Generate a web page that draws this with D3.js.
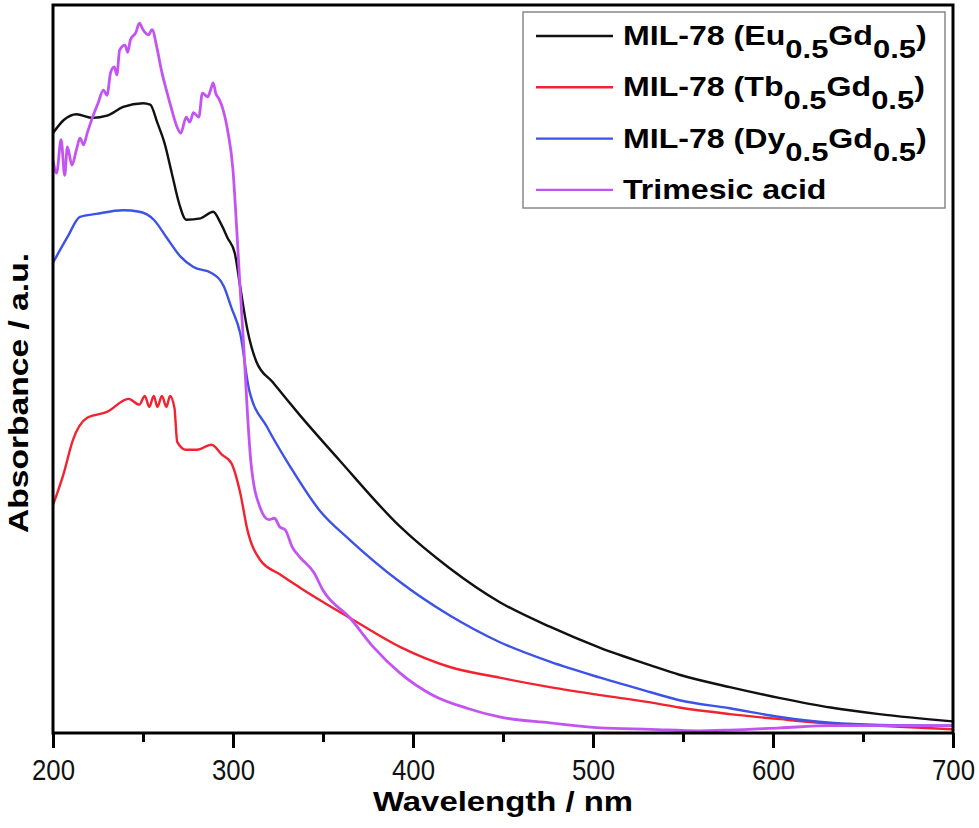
<!DOCTYPE html>
<html>
<head>
<meta charset="utf-8">
<title>MIL-78 absorbance</title>
<script src="https://cdnjs.cloudflare.com/ajax/libs/d3/7.8.5/d3.min.js"></script>
<style>
  html, body { margin: 0; padding: 0; background: #fff; }
  svg { display: block; }
  text { font-family: "Liberation Sans", Arial, Helvetica, sans-serif; }
</style>
</head>
<body>
<div id="chart"></div>
<script>
// wavelength (nm) / absorbance (a.u.)
const euWave = [200, 206, 213, 222, 230, 239, 250, 254, 258, 262, 266, 270, 274, 282, 289, 293, 297, 301, 304, 308, 313, 322, 337, 359, 393, 420, 448, 476, 504, 532, 548, 576, 604, 632, 659, 700];
const euAbs = [0.824, 0.842, 0.850, 0.845, 0.848, 0.860, 0.865, 0.863, 0.838, 0.810, 0.769, 0.728, 0.705, 0.707, 0.716, 0.701, 0.680, 0.659, 0.613, 0.554, 0.510, 0.482, 0.437, 0.375, 0.283, 0.227, 0.180, 0.146, 0.117, 0.093, 0.080, 0.063, 0.048, 0.035, 0.026, 0.016];

const tbWave = [200, 206, 211, 219, 230, 242, 248, 251, 253.5, 256, 258, 260.5, 263, 265, 267.5, 269, 274, 280, 288, 294, 299, 304, 308, 315, 326, 337, 350, 365, 393, 420, 448, 476, 504, 532, 548, 576, 604, 632, 659, 700];
const tbAbs = [0.313, 0.357, 0.402, 0.433, 0.441, 0.459, 0.451, 0.463, 0.448, 0.463, 0.448, 0.463, 0.448, 0.463, 0.446, 0.400, 0.389, 0.389, 0.396, 0.382, 0.371, 0.330, 0.279, 0.238, 0.218, 0.200, 0.180, 0.158, 0.118, 0.091, 0.076, 0.063, 0.052, 0.042, 0.035, 0.026, 0.019, 0.013, 0.010, 0.005];

const dyWave = [200, 208, 215, 224, 239, 248, 256, 263, 271, 278, 288, 295, 299, 304, 309, 319, 332, 348, 365, 393, 420, 448, 476, 504, 532, 548, 576, 604, 632, 659, 700];
const dyAbs = [0.646, 0.681, 0.709, 0.713, 0.718, 0.716, 0.705, 0.681, 0.654, 0.640, 0.632, 0.613, 0.585, 0.549, 0.471, 0.420, 0.365, 0.306, 0.265, 0.207, 0.162, 0.125, 0.098, 0.076, 0.056, 0.045, 0.034, 0.022, 0.014, 0.011, 0.010];

const taWave = [200, 202, 204.5, 206.5, 208, 210.5, 213, 215, 217, 219, 222, 225, 228, 230, 232, 234, 235.5, 237, 240, 241.5, 243, 246, 248, 250, 253, 255, 258, 260, 263, 266, 269, 271, 274, 276, 278, 281, 283, 286, 287.5, 289, 290.5, 292, 294, 297, 300, 302, 304, 306, 308, 310, 315, 320, 323, 326, 329, 333, 337, 345, 350, 365, 378, 393, 411, 430, 448, 476, 504, 532, 559, 576, 604, 632, 659, 700];
const taAbs = [0.787, 0.769, 0.815, 0.766, 0.805, 0.780, 0.801, 0.817, 0.808, 0.824, 0.846, 0.865, 0.883, 0.876, 0.907, 0.915, 0.904, 0.938, 0.945, 0.935, 0.952, 0.962, 0.975, 0.966, 0.959, 0.966, 0.938, 0.913, 0.883, 0.856, 0.832, 0.824, 0.846, 0.839, 0.852, 0.846, 0.879, 0.874, 0.883, 0.893, 0.878, 0.872, 0.860, 0.828, 0.773, 0.695, 0.609, 0.530, 0.440, 0.371, 0.310, 0.293, 0.295, 0.283, 0.279, 0.255, 0.242, 0.220, 0.196, 0.158, 0.118, 0.082, 0.052, 0.034, 0.022, 0.014, 0.007, 0.005, 0.003, 0.004, 0.007, 0.010, 0.010, 0.010];

const xTicks = [200, 300, 400, 500, 600, 700];
const xMinorTicks = [250, 350, 450, 550, 650];

const series = [
  { name: ["MIL-78 (Eu", "0.5", "Gd", "0.5", ")"], wave: euWave, abs: euAbs, color: "#111111" },
  { name: ["MIL-78 (Tb", "0.5", "Gd", "0.5", ")"], wave: tbWave, abs: tbAbs, color: "#f2222e" },
  { name: ["MIL-78 (Dy", "0.5", "Gd", "0.5", ")"], wave: dyWave, abs: dyAbs, color: "#3d52e6" },
  { name: ["Trimesic acid"], wave: taWave, abs: taAbs, color: "#c454f2" }
];

const W = 979, H = 828;
const margin = { top: 5, right: 26, bottom: 95, left: 53 };
const width = W - margin.left - margin.right,
      height = H - margin.top - margin.bottom;

const svg = d3.select("#chart").append("svg")
  .attr("width", W)
  .attr("height", H);

const g = svg.append("g")
  .attr("transform", `translate(${margin.left},${margin.top})`);

const x = d3.scaleLinear().domain([200, 700]).range([0, width]);
const y = d3.scaleLinear().domain([0, 1]).range([height, 0]);

g.append("clipPath").attr("id", "plot")
  .append("rect").attr("width", width).attr("height", height);

// curves
const line = d3.line()
  .x(p => x(p[0]))
  .y(p => y(p[1]))
  .curve(d3.curveMonotoneX);

g.append("g").attr("clip-path", "url(#plot)")
  .selectAll("path")
  .data(series)
  .join("path")
    .attr("fill", "none")
    .attr("stroke", d => d.color)
    .attr("stroke-width", (d, i) => i === 3 ? 2.8 : 2.4)
    .attr("stroke-linejoin", "round")
    .attr("d", d => line(d.wave.map((w, i) => [w, d.abs[i]])));

// x axis, major + minor ticks
const xAxis = g.append("g")
  .attr("transform", `translate(0,${height})`)
  .call(d3.axisBottom(x).tickValues(xTicks).tickSize(15).tickSizeOuter(0));
xAxis.select(".domain").remove();
xAxis.selectAll(".tick line").attr("stroke-width", 3);
xAxis.selectAll(".tick text")
  .attr("y", 47).attr("dy", 0)
  .attr("fill", "#111")
  .attr("font-size", 30)
  .attr("transform", "scale(0.86,1)");

g.append("g")
  .attr("transform", `translate(0,${height})`)
  .call(d3.axisBottom(x).tickValues(xMinorTicks).tickSize(9).tickFormat(""))
  .call(a => a.select(".domain").remove())
  .selectAll(".tick line").attr("stroke-width", 3);

// frame
g.append("rect")
  .attr("width", width)
  .attr("height", height)
  .attr("fill", "none")
  .attr("stroke", "#000")
  .attr("stroke-width", 3);

// axis titles
svg.append("text")
  .attr("x", 503).attr("y", 811)
  .attr("text-anchor", "middle")
  .attr("font-size", 27).attr("font-weight", "bold")
  .attr("textLength", 260).attr("lengthAdjust", "spacingAndGlyphs")
  .text("Wavelength / nm");

svg.append("text")
  .attr("transform", "translate(28,393) rotate(-90)")
  .attr("text-anchor", "middle")
  .attr("font-size", 28).attr("font-weight", "bold")
  .attr("textLength", 280).attr("lengthAdjust", "spacingAndGlyphs")
  .text("Absorbance / a.u.");

// legend
const legend = svg.append("g");
legend.append("rect")
  .attr("x", 523).attr("y", 12)
  .attr("width", 422).attr("height", 196)
  .attr("fill", "#fff")
  .attr("stroke", "#888")
  .attr("stroke-width", 1.5);

const rows = legend.selectAll(".row")
  .data(series)
  .join("g")
    .attr("class", "row")
    .attr("transform", (d, i) => `translate(0,${45 + i * 51.3})`);

rows.append("line")
  .attr("x1", 536).attr("x2", 613)
  .attr("y1", -9).attr("y2", -9)
  .attr("stroke", d => d.color)
  .attr("stroke-width", 2.4);

const label = rows.append("text")
  .attr("transform", "translate(623,0) scale(1.19,1)")
  .attr("font-size", 27)
  .attr("font-weight", "bold");

label.selectAll("tspan")
  .data(d => d.name)
  .join("tspan")
    .attr("font-size", (t, i) => i % 2 ? 26 : 27)
    .attr("dy", (t, i) => i === 0 ? 0 : (i % 2 ? 13 : -13))
    .text(t => t);
</script>
</body>
</html>
